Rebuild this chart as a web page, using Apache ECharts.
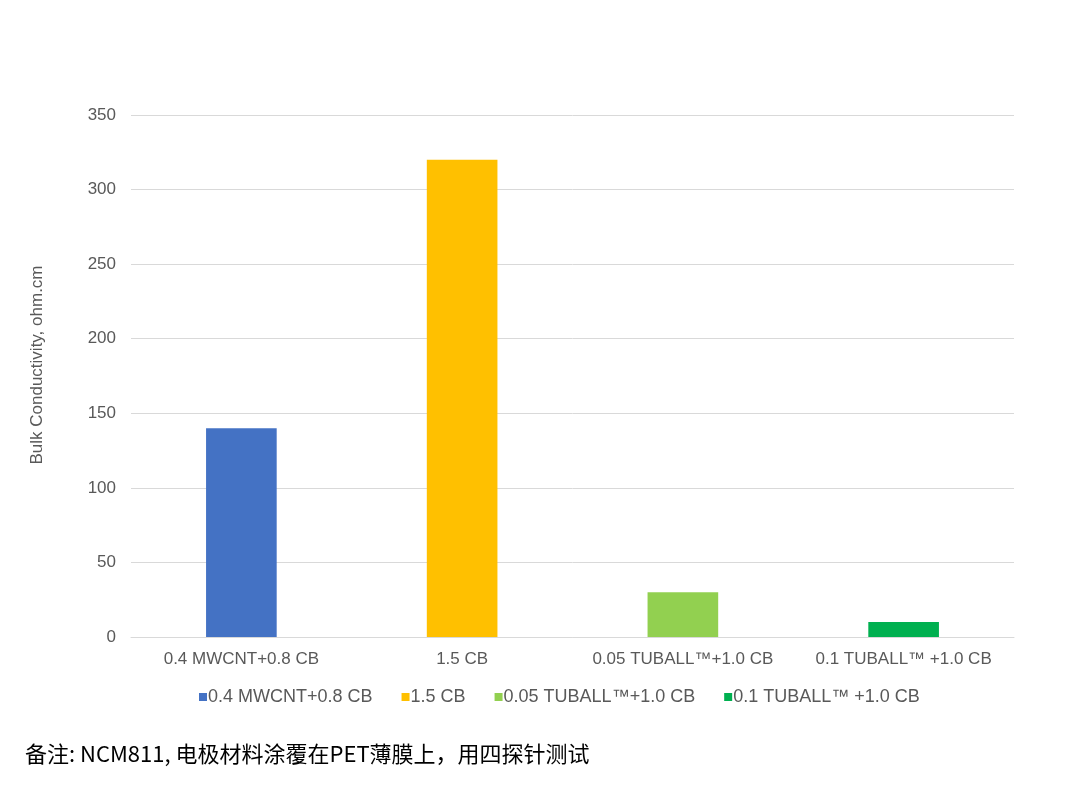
<!DOCTYPE html>
<html>
<head>
<meta charset="utf-8">
<script src="https://cdn.jsdelivr.net/npm/echarts@6/dist/echarts.min.js"></script>
<style>
  html, body { margin: 0; padding: 0; background: #fff; }
  #chart { width: 1080px; height: 785px; }
</style>
</head>
<body>
<div id="chart"></div>
<script>
const categories = ['0.4 MWCNT+0.8 CB', '1.5 CB', '0.05 TUBALL™+1.0 CB', '0.1 TUBALL™ +1.0 CB'];
const seriesNames = ['0.4 MWCNT+0.8 CB', '1.5 CB', '0.05 TUBALL™+1.0 CB', '0.1 TUBALL™ +1.0 CB'];
const values = [140, 320, 30, 10];
const colors = ['#4472C4', '#FFC000', '#92D050', '#00B050'];
const yTicks = [0, 50, 100, 150, 200, 250, 300, 350];

const chart = echarts.init(document.getElementById('chart'));

// one series per bar so the legend lists each, stacked to keep bars centred
const series = seriesNames.map((name, i) => ({
  name: name,
  type: 'bar',
  stack: 'all',
  barWidth: '32%',
  itemStyle: { color: colors[i] },
  data: categories.map((c, j) => (j === i ? values[i] : null))
}));

chart.setOption({
  animation: false,
  textStyle: { fontFamily: 'Liberation Sans, Arial, sans-serif' },
  grid: { left: 131, right: 66, top: 115, bottom: 148 },
  legend: {
    bottom: 74,
    left: 194,
    itemWidth: 8,
    itemHeight: 8,
    itemGap: 29,
    icon: 'rect',
    textStyle: { color: '#595959', fontSize: 18, padding: [0, 0, 0, -4] },
    data: seriesNames
  },
  xAxis: {
    type: 'category',
    data: categories,
    axisLine: { lineStyle: { color: '#d9d9d9', width: 1 } },
    axisTick: { show: false },
    axisLabel: { color: '#595959', fontSize: 17, margin: 14, interval: 0 }
  },
  yAxis: {
    type: 'value',
    min: yTicks[0],
    max: yTicks[yTicks.length - 1],
    interval: 50,
    name: 'Bulk Conductivity, ohm.cm',
    nameLocation: 'middle',
    nameGap: 85,
    nameTextStyle: { color: '#595959', fontSize: 17, padding: [0, 0, 0, 22] },
    axisLine: { show: false },
    axisTick: { show: false },
    axisLabel: { color: '#595959', fontSize: 17, margin: 15 },
    splitLine: { lineStyle: { color: '#d9d9d9', width: 1 } }
  },
  graphic: [{
    type: 'text',
    left: 25,
    top: 743,
    style: {
      text: '备注: NCM811, 电极材料涂覆在PET薄膜上，用四探针测试',
      fill: '#000',
      font: '22px "Noto Sans CJK SC", sans-serif'
    }
  }],
  series: series
});
</script>
</body>
</html>
